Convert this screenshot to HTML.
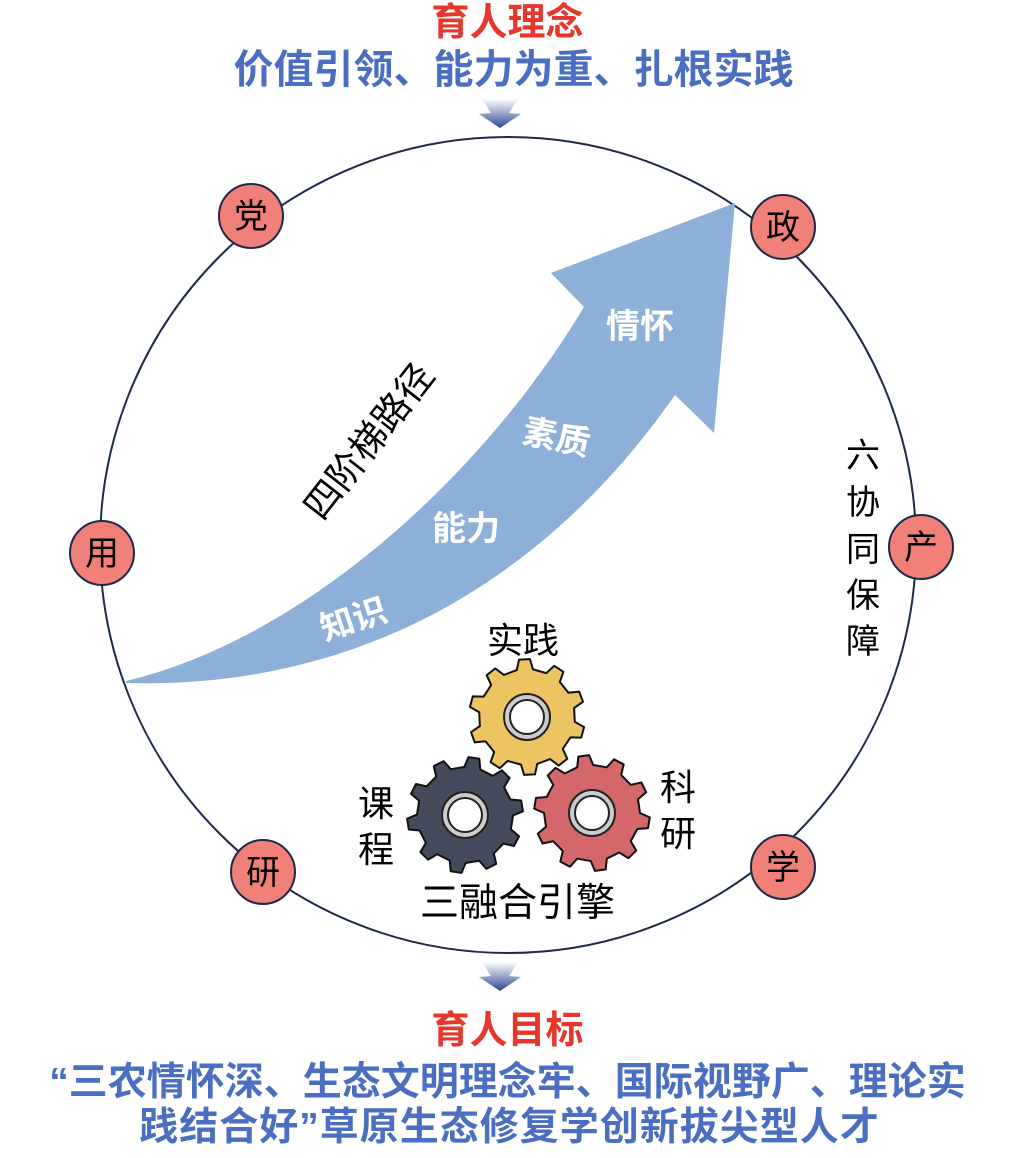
<!DOCTYPE html>
<html><head><meta charset="utf-8"><style>
html,body{margin:0;padding:0;background:#fff;}
body{width:1015px;height:1158px;position:relative;overflow:hidden;font-family:"Liberation Sans","Noto Sans CJK SC",sans-serif;}
.t{position:absolute;left:0;width:1015px;text-align:center;font-weight:bold;white-space:nowrap;line-height:1;}
</style></head><body>
<div class="t" style="top:4px;font-size:38px;color:#e6372c;">育人理念</div>
<div class="t" style="top:50px;font-size:40px;color:#4a6fc0;left:6px;">价值引领、能力为重、扎根实践</div>
<div class="t" style="top:1012px;font-size:38px;color:#e6372c;">育人目标</div>
<div class="t" style="top:1063px;font-size:39px;color:#4a6fc0;left:0px;">“三农情怀深、生态文明理念牢、国际视野广、理论实</div>
<div class="t" style="top:1108px;font-size:39px;color:#4a6fc0;left:2px;letter-spacing:1px;">践结合好”草原生态修复学创新拔尖型人才</div>
<svg width="1015" height="1158" style="position:absolute;left:0;top:0" xmlns="http://www.w3.org/2000/svg">
<defs>
<linearGradient id="dg" x1="0" y1="0" x2="0" y2="1"><stop offset="0" stop-color="#fff"/><stop offset="1" stop-color="#2c4894"/></linearGradient>
</defs>
<circle cx="508" cy="545" r="408" fill="none" stroke="#1e2a4a" stroke-width="2"/>
<path d="M482,99 L518,99 L509,113 L521,114 L500,128 L479,114 L491,113 Z" fill="url(#dg)"/>
<path d="M482,962 L518,962 L509,976 L521,977 L500,991 L479,977 L491,976 Z" fill="url(#dg)"/>
<path d="M126,681 C300,640 480,480 584,307 L551,273 L735,203 L714,433 L675,395 C560,560 380,690 126,683 Z" fill="#8db0d8"/>
<g font-family="Liberation Sans,Noto Sans CJK SC,sans-serif" font-weight="bold" fill="#fff" font-size="34">
<text x="318" y="632" transform="rotate(-18 350 615)">知识</text>
<text x="432" y="540">能力</text>
<text x="522" y="450" transform="rotate(12 560 440)">素质</text>
<text x="606" y="338">情怀</text>
</g>
<text x="0" y="0" font-size="37" font-family="Liberation Sans,Noto Sans CJK SC,sans-serif" fill="#000" transform="translate(322,522) rotate(-52)">四阶梯路径</text>
<g id="gears"></g>
<g font-family="Liberation Sans,Noto Sans CJK SC,sans-serif" font-size="36" fill="#000">
<text x="487" y="653">实践</text>
<text x="358" y="816">课</text><text x="358" y="862">程</text>
<text x="660" y="800">科</text><text x="660" y="846">研</text>
<text x="420" y="916" font-size="39">三融合引擎</text>
<text x="846" y="467" font-size="34">六</text>
<text x="846" y="514" font-size="34">协</text>
<text x="846" y="561" font-size="34">同</text>
<text x="846" y="607" font-size="34">保</text>
<text x="846" y="653" font-size="34">障</text>
</g>
<g stroke="#1e2a4a" stroke-width="2" fill="#f08078">
<circle cx="251" cy="216" r="32"/><circle cx="783" cy="227" r="32"/>
<circle cx="102" cy="553" r="32"/><circle cx="921" cy="547" r="32"/>
<circle cx="263" cy="872" r="32"/><circle cx="783" cy="867" r="32"/>
</g>
<g font-family="Liberation Sans,Noto Sans CJK SC,sans-serif" font-size="34" fill="#000" text-anchor="middle">
<text x="251" y="228">党</text><text x="783" y="239">政</text>
<text x="102" y="565">用</text><text x="921" y="559">产</text>
<text x="263" y="884">研</text><text x="783" y="879">学</text>
</g>
</svg>
<script>
(function(){
var g=document.getElementById('gears');
function gear(cx,cy,col,rot){
 var n=10,ro=58,ri=48,p=[];
 for(var i=0;i<n;i++){
  var a=(i/n)*2*Math.PI+rot, s=2*Math.PI/n;
  var pts=[[ri,a],[ro,a+s*0.12],[ro,a+s*0.42],[ri,a+s*0.54]];
  pts.forEach(function(q){p.push((cx+q[0]*Math.cos(q[1])).toFixed(1)+','+(cy+q[0]*Math.sin(q[1])).toFixed(1));});
 }
 var s='<polygon points="'+p.join(' ')+'" fill="'+col+'" stroke="#111" stroke-width="2" stroke-linejoin="round"/>'+
 '<circle cx="'+cx+'" cy="'+cy+'" r="23" fill="#ccc" stroke="#222" stroke-width="2"/>'+
 '<circle cx="'+cx+'" cy="'+cy+'" r="17" fill="#fff" stroke="#222" stroke-width="2"/>';
 g.insertAdjacentHTML('beforeend',s);
}
gear(527,717,'#ecc462',0.1);
gear(465,815,'#454a5c',0.3);
gear(592,813,'#d4676a',0.0);
})();
</script>
</body></html>
